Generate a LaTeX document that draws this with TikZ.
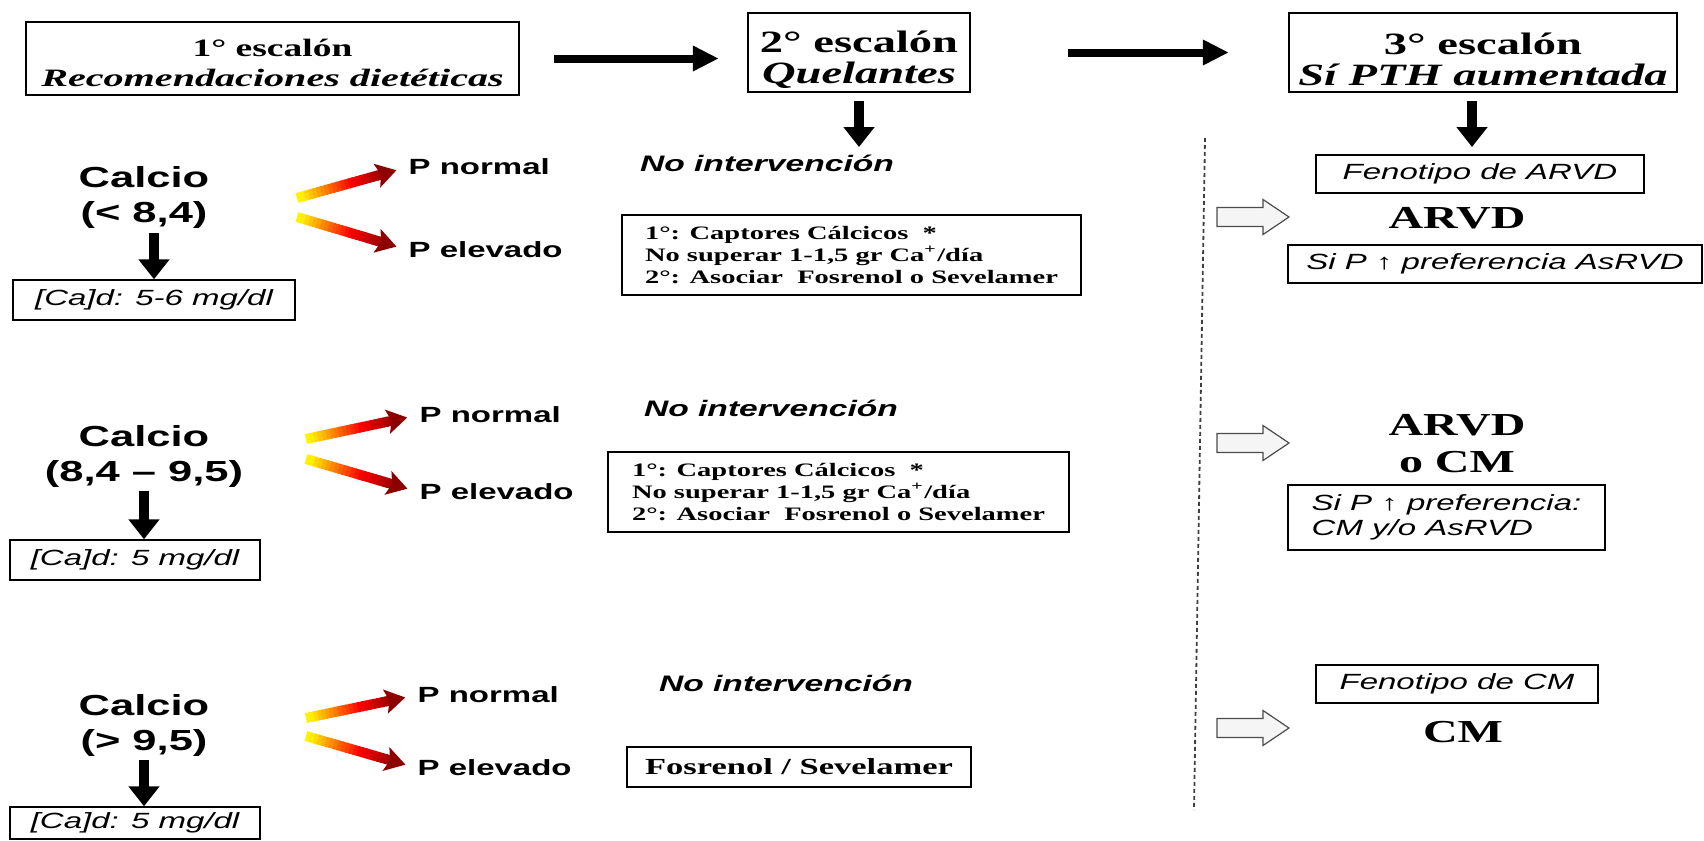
\documentclass[tikz,border=0pt]{standalone}
\usepackage{fontspec}
\setmainfont{Liberation Serif}
\setsansfont{Liberation Sans}
\usetikzlibrary{arrows.meta,calc}
\newcommand{\fsz}[2]{\fontsize{#1}{#2}\selectfont}

\begin{document}
\begin{tikzpicture}[x=0.5pt,y=-0.5pt,
    escbox/.style={draw,line width=0.8pt,inner sep=0pt,xscale=1.5,align=center,
      font=\fsz{15.5pt}{15.5pt}\bfseries},
    infobox/.style={draw,line width=0.7pt,inner sep=0pt,xscale=1.5,align=center,
      minimum height=19pt,font=\fsz{11pt}{12.5pt}\sffamily\itshape},
    drugbox/.style={draw,line width=0.7pt,inner sep=0pt,xscale=1.5,
      align=left,minimum height=40pt,font=\fsz{9.5pt}{11pt}\bfseries},
    calc/.style={inner sep=0pt,xscale=1.5,align=center,font=\fsz{14.5pt}{17.5pt}\sffamily\bfseries},
    plabel/.style={inner sep=0pt,xscale=1.5,anchor=west,font=\fsz{11pt}{12pt}\sffamily\bfseries},
    noint/.style={inner sep=0pt,xscale=1.5,font=\fsz{11.2pt}{12pt}\sffamily\bfseries\itshape},
    result/.style={inner sep=0pt,xscale=1.5,align=center,font=\fsz{16pt}{18.5pt}\bfseries},
    bigarrow/.style={line width=4pt,-{Triangle[width=12pt,length=13pt]}},
    downarrow/.style={line width=5pt,-{Triangle[width=15pt,length=10pt]}},
    sepline/.style={line width=0.9pt,black!75,dash pattern=on 2pt off 1.5pt},
    blockarrow/.style={fill=gray!8,draw=gray!60!black,line width=0.6pt}]

  \useasboundingbox (0,0) rectangle (1704,841);

  % escalones
  \node[escbox,minimum width=164.3pt,minimum height=36.5pt,font=\fsz{12.5pt}{15pt}\bfseries]
    (esc1) at (272.5,58.5) {\rule{0pt}{13.5pt}1° escalón\\\scalebox{1.07}[1]{\textit{Recomendaciones dietéticas}}};
  \node[escbox,minimum width=74pt,minimum height=39.5pt] (esc2) at (859,52.5) {\rule{0pt}{18pt}2° escalón\\\textit{Quelantes}};
  \node[escbox,minimum width=129.3pt,minimum height=39.5pt] (esc3) at (1483,52.5) {\rule{0pt}{18pt}3° escalón\\\textit{Sí PTH aumentada}};

  \draw[bigarrow,shorten <=17pt,shorten >=14pt] (esc1.east) -- (esc2.west |- esc1.east);
  \draw[bigarrow,shorten <=48.5pt,shorten >=29.5pt] (esc2.east) -- (esc3.west);

  \coordinate (q2) at (859,147);
  \coordinate (q3) at (1472,147);
  \draw[downarrow,shorten <=4pt] (esc2.south) -- (q2);
  \draw[downarrow,shorten <=4pt] (esc3.south -| q3) -- (q3);

  % calcio
  \node[calc] (cal1) at (144,197.5) {Calcio\\(< 8,4)};
  \node[calc] (cal2) at (144,456) {Calcio\\(8,4 – 9,5)};
  \node[calc] (cal3) at (144,725) {Calcio\\(> 9,5)};

  \node[infobox,minimum width=94pt,minimum height=20pt] (cad1) at (154,300) {[Ca]d: 5-6 mg/dl};
  \node[infobox,minimum width=83.3pt,minimum height=20pt] (cad2) at (135,560) {[Ca]d: 5 mg/dl};
  \node[infobox,minimum width=83.3pt,minimum height=16pt] (cad3) at (135,823) {[Ca]d: 5 mg/dl};

  \draw[downarrow,shorten <=2pt] (cad1.north |- cal1.south) -- (cad1.north);
  \draw[downarrow,shorten <=2pt] (cal2.south) -- (cal2.south |- cad2.north);
  \draw[downarrow,shorten <=2pt] (cal3.south) -- (cal3.south |- cad3.north);

  % fosforo
  \node[plabel] (pn1) at (408,167) {P normal};
  \node[plabel] (pe1) at (408,250) {P elevado};
  \node[plabel] (pn2) at (419,415) {P normal};
  \node[plabel] (pe2) at (419,492) {P elevado};
  \node[plabel] (pn3) at (417,695) {P normal};
  \node[plabel] (pe3) at (417,768) {P elevado};

  \coordinate (g1n) at (297,198);
  \coordinate (g1e) at (297,217);
  \coordinate (g2n) at (306,439);
  \coordinate (g2e) at (306,459);
  \coordinate (g3n) at (306,718);
  \coordinate (g3e) at (306,736);

  \foreach \s/\t in {g1n/pn1,g1e/pe1,g2n/pn2,g2e/pe2,g3n/pn3,g3e/pe3}{
    \coordinate (tip) at ($(\t.west)!6pt!(\s)$);
    \foreach \i in {0,...,21}{
      \ifnum\i<14
        \pgfmathtruncatemacro\p{\i*100/13}\colorlet{segc}{red!\p!yellow}
      \else
        \pgfmathtruncatemacro\p{100-(\i-13)*5}\colorlet{segc}{red!\p!black}
      \fi
      \pgfmathsetmacro\na{\i/25}
      \pgfmathsetmacro\nb{(\i+1.3)/25}
      \draw[line width=5pt,segc] ($(\s)!\na!(tip)$) -- ($(\s)!\nb!(tip)$);
    }
    \draw[line width=5pt,red!55!black,-{Stealth[width=12pt,length=10pt,inset=2pt]}] ($(\s)!0.88!(tip)$) -- (tip);
  }

  % quelantes
  \node[noint] (ni1) at (767,163) {No intervención};
  \node[noint] (ni2) at (771,408) {No intervención};
  \node[noint] (ni3) at (786,683) {No intervención};

  \node[drugbox,minimum width=153pt] (cap1) at (851.5,255)
    {1°: Captores Cálcicos \ *\\No superar 1-1,5 gr Ca\textsuperscript{+}/día\\2°: Asociar \ Fosrenol o Sevelamer};
  \node[drugbox,minimum width=153.7pt] (cap2) at (838.5,492)
    {1°: Captores Cálcicos \ *\\No superar 1-1,5 gr Ca\textsuperscript{+}/día\\2°: Asociar \ Fosrenol o Sevelamer};
  \node[drugbox,align=center,minimum width=114.7pt,minimum height=20pt,font=\fsz{11.5pt}{12pt}\bfseries]
    (fos3) at (799,767) {Fosrenol / Sevelamer};

  % separador
  \coordinate (sepTop) at (1205,138);
  \coordinate (sepBot) at (1194,810);
  \draw[sepline] (sepTop) -- (sepBot);

  \foreach \y in {217,443,728}{
    \begin{scope}[shift={(1217,\y)}]
      \draw[blockarrow] (0,-9.5) -- (46,-9.5) -- (46,-17.5) -- (72,0) -- (46,17.5) -- (46,9.5) -- (0,9.5) -- cycle;
    \end{scope}
  }

  % PTH
  \node[infobox,minimum width=109.3pt] (fen1) at (1480,174) {Fenotipo de ARVD};
  \node[result] (arv1) at (1457,218) {ARVD};
  \node[infobox,minimum width=138pt] (asr1) at (1495,264) {Si P ↑ preferencia AsRVD};

  \node[result] (arv2) at (1457,443.5) {ARVD\\o CM};
  \node[infobox,align=left,minimum width=105.7pt,minimum height=32.5pt] (pref2) at (1446.5,517.5)
    {Si P ↑ preferencia:\\CM y/o AsRVD};

  \node[infobox,minimum width=94pt] (fen3) at (1457,684) {Fenotipo de CM};
  \node[result] (cm3) at (1463,732) {CM};

\end{tikzpicture}
\end{document}
